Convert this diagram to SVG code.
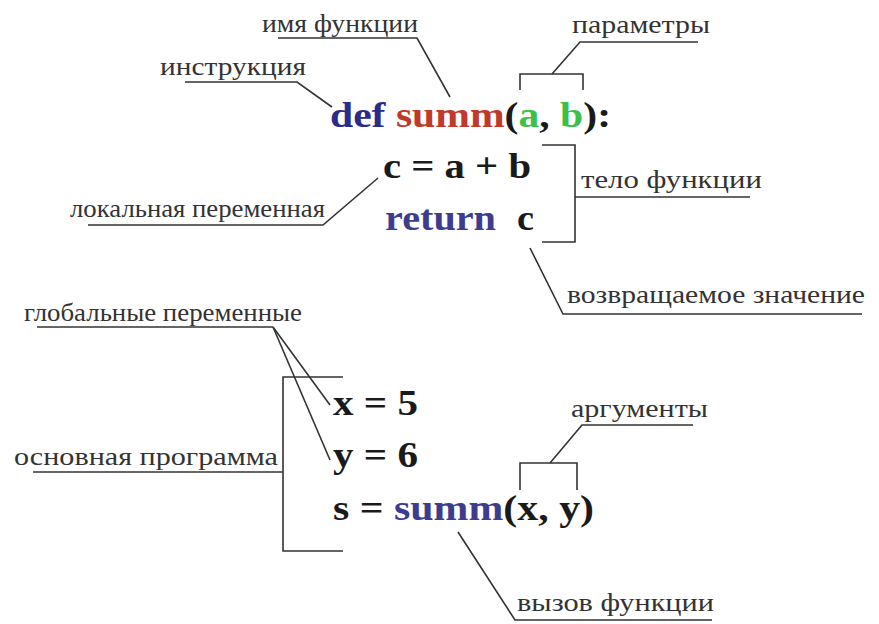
<svg xmlns="http://www.w3.org/2000/svg" width="879" height="624" viewBox="0 0 879 624">
<style>
text{font-family:'Liberation Serif',Tinos,'Times New Roman',Times,serif}
.lbl{font-size:26px;fill:#333}
.code{font-size:36px;font-weight:bold;fill:#1a1a1a}
.ln{fill:none;stroke:#333;stroke-width:1.6}
.kw{fill:#2b2b8c}
.fn{fill:#c0392b}
.pr{fill:#3cc04a}
.bl{fill:#3d3d90}
</style>
<rect width="879" height="624" fill="#fff"/>
<g id="connectors">
<polyline class="ln" points="278,38 417,38 450,97"/>
<polyline class="ln" points="185,82 297,82 332,107"/>
<polyline class="ln" points="698,42 580,42 552,74"/>
<polyline class="ln" points="520,90 520,74 583,74 583,90"/>
<polyline class="ln" points="542,145 575,145 575,242 542,242"/>
<line class="ln" x1="575" y1="197" x2="750" y2="197"/>
<polyline class="ln" points="88,225 323,225 378,178"/>
<polyline class="ln" points="530,248 563,314 862,314"/>
<line class="ln" x1="37" y1="327" x2="273" y2="327"/>
<line class="ln" x1="273" y1="327" x2="330" y2="405"/>
<line class="ln" x1="273" y1="327" x2="330" y2="460"/>
<polyline class="ln" points="343,377 283,377 283,551 343,551"/>
<line class="ln" x1="33" y1="472" x2="283" y2="472"/>
<polyline class="ln" points="693,425 582,425 550,463"/>
<polyline class="ln" points="520,490 520,463 577,463 577,490"/>
<polyline class="ln" points="458,532 515,620 712,620"/>
</g>
<g id="label-name"><text class="lbl" font-family="Liberation Serif, serif" x="262" y="32" textLength="156" lengthAdjust="spacingAndGlyphs">имя функции</text></g>
<g id="label-instr"><text class="lbl" font-family="Liberation Serif, serif" x="160" y="75" textLength="146" lengthAdjust="spacingAndGlyphs">инструкция</text></g>
<g id="label-params"><text class="lbl" font-family="Liberation Serif, serif" x="572" y="33" textLength="138" lengthAdjust="spacingAndGlyphs">параметры</text></g>
<g id="label-local"><text class="lbl" font-family="Liberation Serif, serif" x="70" y="217" textLength="255" lengthAdjust="spacingAndGlyphs">локальная переменная</text></g>
<g id="label-body"><text class="lbl" font-family="Liberation Serif, serif" x="581" y="188" textLength="181" lengthAdjust="spacingAndGlyphs">тело функции</text></g>
<g id="label-return"><text class="lbl" font-family="Liberation Serif, serif" x="567" y="303" textLength="298" lengthAdjust="spacingAndGlyphs">возвращаемое значение</text></g>
<g id="label-global"><text class="lbl" font-family="Liberation Serif, serif" x="24" y="321" textLength="278" lengthAdjust="spacingAndGlyphs">глобальные переменные</text></g>
<g id="label-main"><text class="lbl" font-family="Liberation Serif, serif" x="14" y="465" textLength="264" lengthAdjust="spacingAndGlyphs">основная программа</text></g>
<g id="label-args"><text class="lbl" font-family="Liberation Serif, serif" x="571" y="417" textLength="137" lengthAdjust="spacingAndGlyphs">аргументы</text></g>
<g id="label-call"><text class="lbl" font-family="Liberation Serif, serif" x="517" y="611" textLength="197" lengthAdjust="spacingAndGlyphs">вызов функции</text></g>
<g id="code-def"><text class="code" font-family="Liberation Serif, serif" x="330" y="127" textLength="281" lengthAdjust="spacingAndGlyphs"><tspan class="kw">def</tspan> <tspan class="fn">summ</tspan>(<tspan class="pr">a</tspan>, <tspan class="pr">b</tspan>):</text></g>
<g id="code-c"><text class="code" font-family="Liberation Serif, serif" x="383" y="178" textLength="148" lengthAdjust="spacingAndGlyphs">c = a + b</text></g>
<g id="code-return"><text class="code bl" font-family="Liberation Serif, serif" x="385" y="230" textLength="111" lengthAdjust="spacingAndGlyphs">return</text><text class="code" font-family="Liberation Serif, serif" x="517" y="230" textLength="17" lengthAdjust="spacingAndGlyphs">c</text></g>
<g id="code-x"><text class="code" font-family="Liberation Serif, serif" x="333" y="415" textLength="85" lengthAdjust="spacingAndGlyphs">x = 5</text></g>
<g id="code-y"><text class="code" font-family="Liberation Serif, serif" x="333" y="467" textLength="85" lengthAdjust="spacingAndGlyphs">y = 6</text></g>
<g id="code-s"><text class="code" font-family="Liberation Serif, serif" x="333" y="520" textLength="261" lengthAdjust="spacingAndGlyphs">s = <tspan class="bl">summ</tspan>(x, y)</text></g>
</svg>
